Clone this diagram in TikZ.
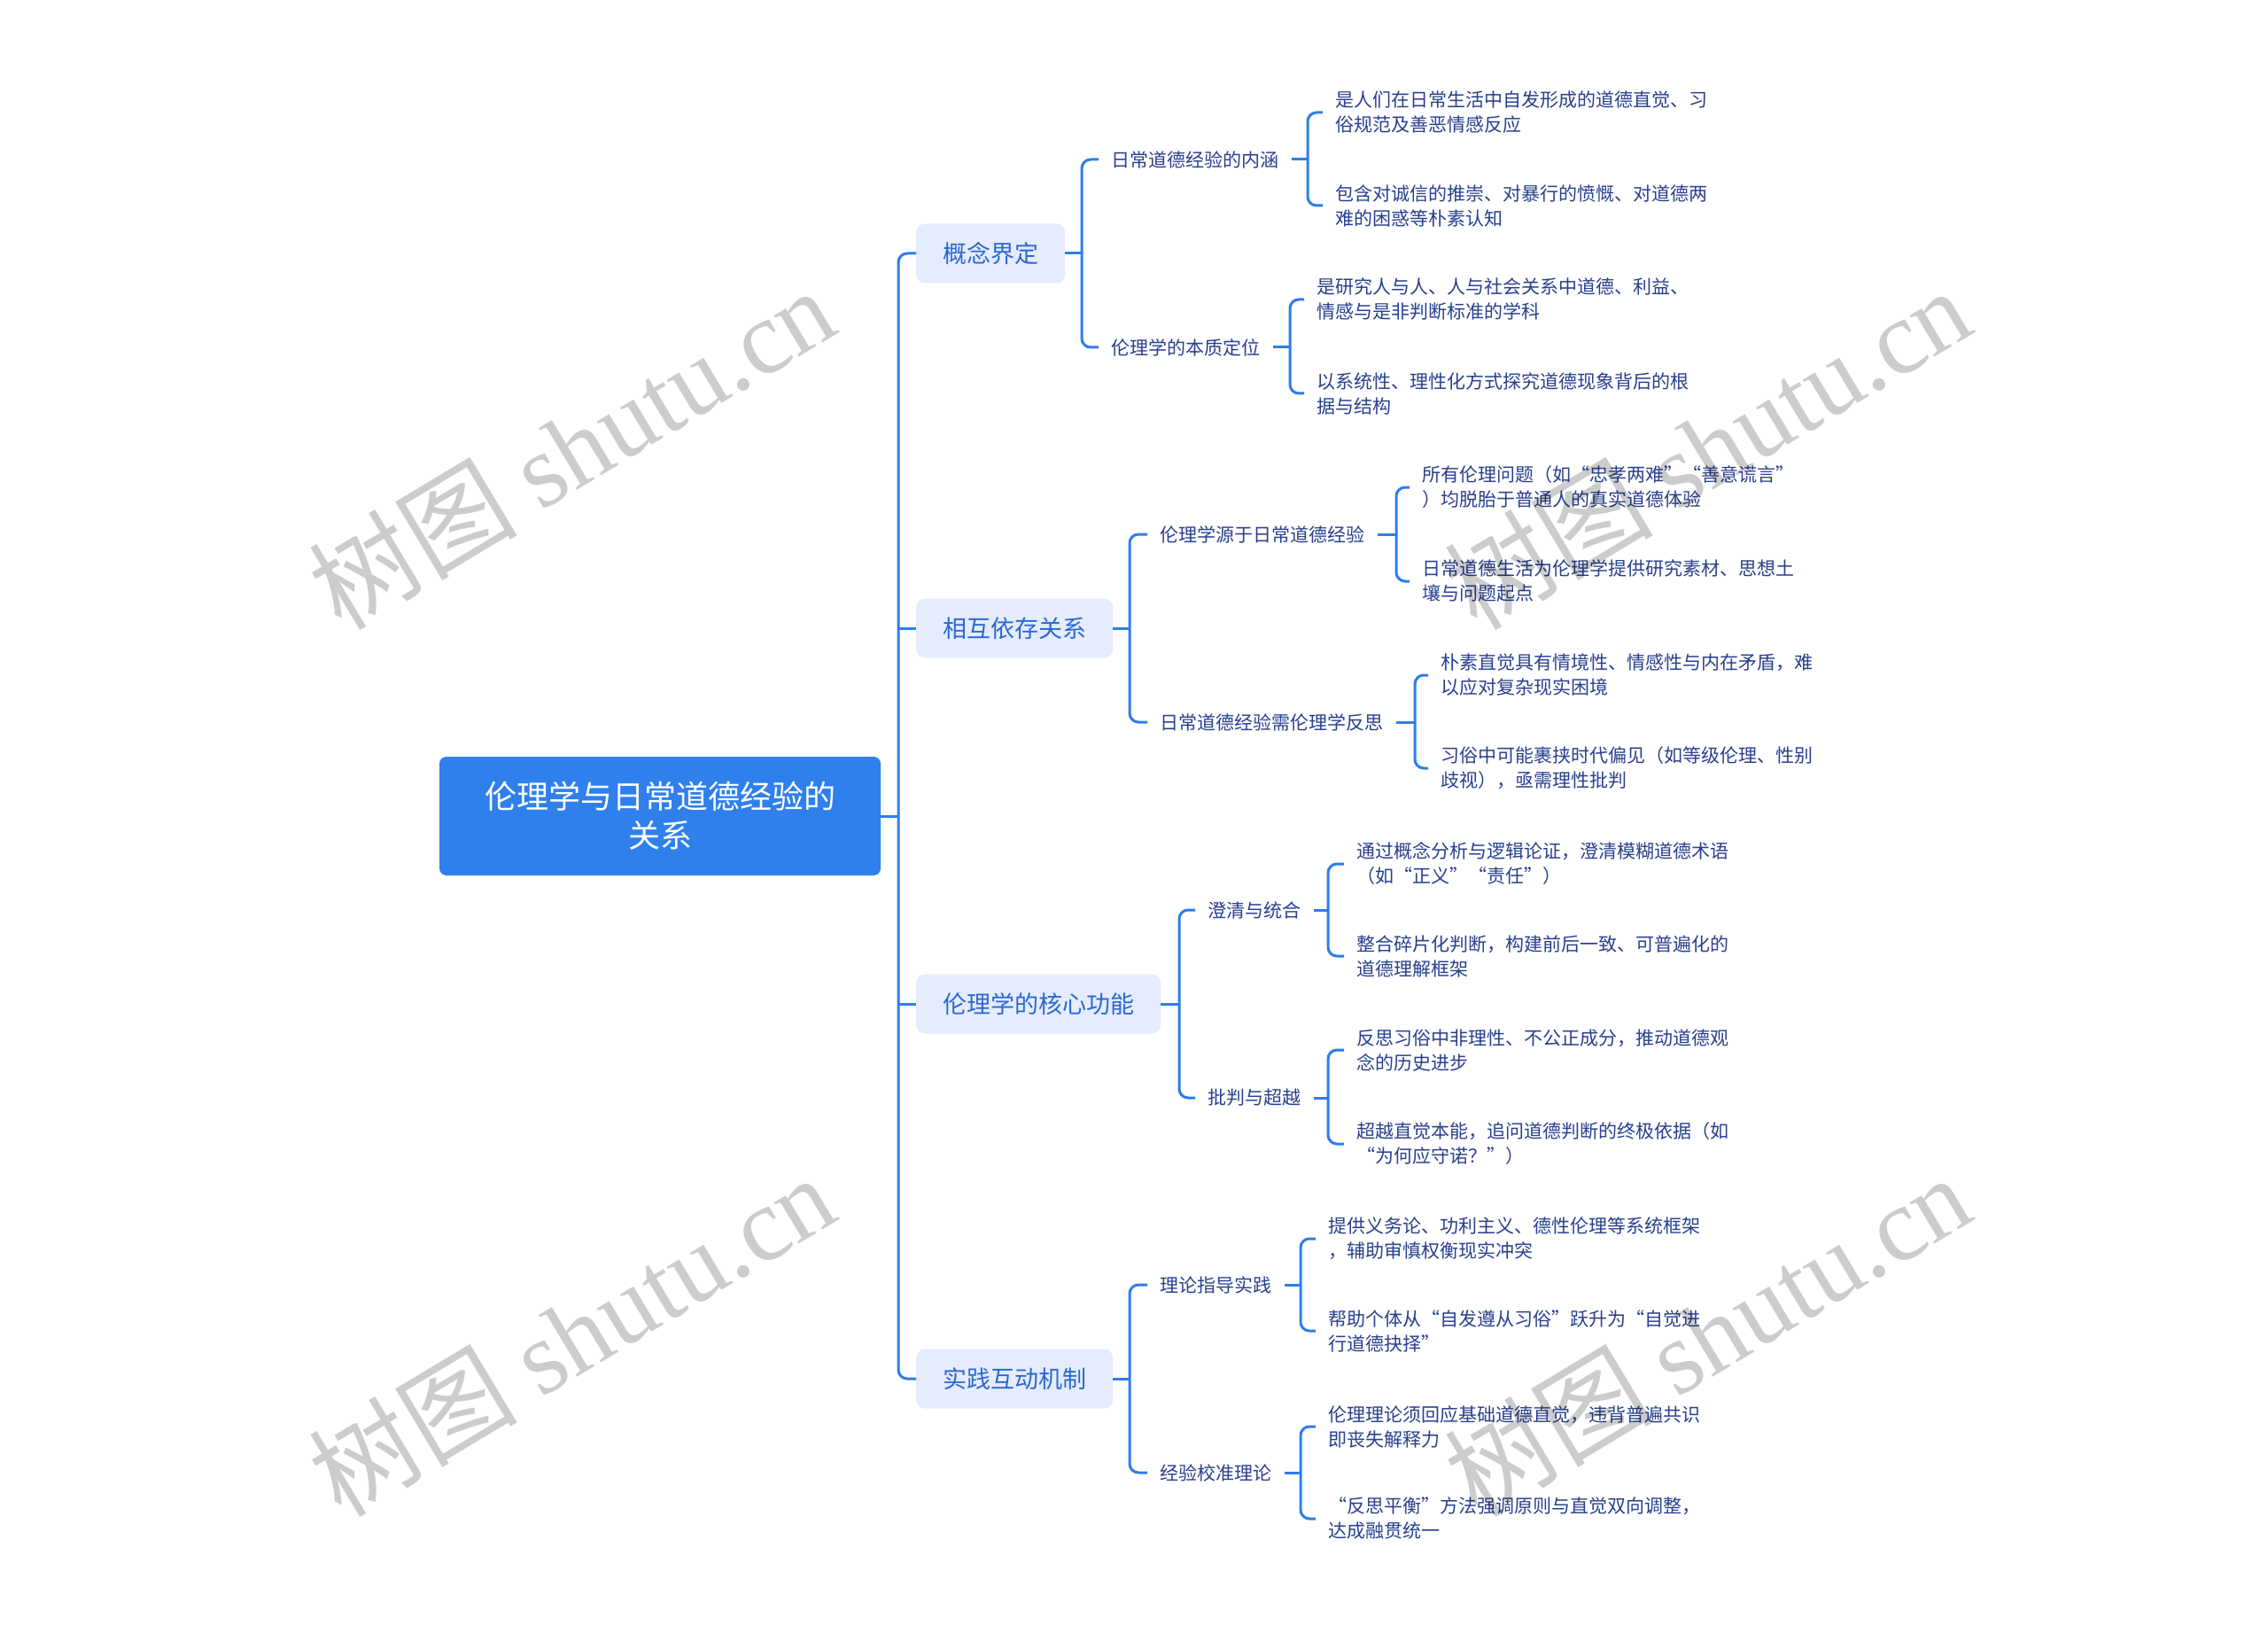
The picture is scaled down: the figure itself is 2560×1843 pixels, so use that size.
\documentclass[tikz,border=0pt]{standalone}
\usepackage{fontspec}
\setmainfont{Noto Sans CJK SC}
\newfontfamily\wmlatin{Liberation Serif}
\newfontfamily\wmcjk{Noto Sans CJK SC}
\definecolor{lineblue}{HTML}{2F7DE8}
\definecolor{rootblue}{HTML}{2F80ED}
\definecolor{lonefill}{HTML}{E4ECFD}
\definecolor{lonetext}{HTML}{2C67D2}
\definecolor{navy}{HTML}{283F8E}
\tikzset{
  conn/.style={draw=lineblue, line width=3pt, rounded corners=10pt},
  rootbox/.style={fill=rootblue, rounded corners=8pt, text=white, minimum width=498pt, minimum height=134pt, align=center, font=\fontsize{36}{44}\selectfont, inner sep=0pt},
  lonebox/.style={fill=lonefill, rounded corners=10pt, text=lonetext, minimum height=67pt, inner xsep=30pt, anchor=west, font=\fontsize{27}{32}\selectfont},
  ltwo/.style={text=navy, anchor=west, inner sep=0pt, font=\fontsize{21}{28}\selectfont},
  leaf/.style={text=navy, anchor=west, inner sep=0pt, align=left, font=\fontsize{21}{28}\selectfont},
  wmark/.style={rotate=31, text=black, text opacity=0.2, inner sep=0pt, font=\fontsize{118}{118}\selectfont}
}
\newcommand\mybrack[5]{%
  \draw[conn] ([xshift=#5]#1.east) -- (#1.east -| #2);
  \draw[conn] ([xshift=-14pt]#3.west) -- (#3.west -| #2) -- (#4.west -| #2) -- ([xshift=-14pt]#4.west);
}
\begin{document}
\begin{tikzpicture}[x=1pt,y=-1pt]
\useasboundingbox (0,0) rectangle (2560,1843);
\fill[white] (0,0) rectangle (2560,1843);

% root
\node[rootbox] (root) at (745,921) {伦理学与日常道德经验的\\关系};
\coordinate (trunk) at (1014,921);

% level 1
\node[lonebox] (la) at (1034,286) {概念界定};
\node[lonebox] (lb) at (1034,709) {相互依存关系};
\node[lonebox] (lc) at (1034,1133) {伦理学的核心功能};
\node[lonebox] (ld) at (1034,1556) {实践互动机制};

\draw[conn] (root.east) -- (root.east -| trunk);
\draw[conn] (la.west) -- (la.west -| trunk) -- (ld.west -| trunk) -- (ld.west);
\draw[conn] (lb.west -| trunk) -- (lb.west);
\draw[conn] (lc.west -| trunk) -- (lc.west);

% level 2
\node[ltwo] (aa) at (1254,180) {日常道德经验的内涵};
\node[ltwo] (ab) at (1254,392) {伦理学的本质定位};
\node[ltwo] (ba) at (1309,603) {伦理学源于日常道德经验};
\node[ltwo] (bb) at (1309,815) {日常道德经验需伦理学反思};
\node[ltwo] (ca) at (1363,1027) {澄清与统合};
\node[ltwo] (cb) at (1363,1239) {批判与超越};
\node[ltwo] (da) at (1309,1450) {理论指导实践};
\node[ltwo] (db) at (1309,1662) {经验校准理论};

\coordinate (bxa) at (1221,286);
\coordinate (bxb) at (1275,709);
\coordinate (bxc) at (1331,1133);
\coordinate (bxd) at (1275,1556);
\mybrack{la}{bxa}{aa}{ab}{0pt}
\mybrack{lb}{bxb}{ba}{bb}{0pt}
\mybrack{lc}{bxc}{ca}{cb}{0pt}
\mybrack{ld}{bxd}{da}{db}{0pt}

% level 3
\node[leaf] (aa1) at (1507,127) {是人们在日常生活中自发形成的道德直觉、习\\俗规范及善恶情感反应};
\node[leaf] (aa2) at (1507,232) {包含对诚信的推崇、对暴行的愤慨、对道德两\\难的困惑等朴素认知};
\node[leaf] (ab1) at (1486,338) {是研究人与人、人与社会关系中道德、利益、\\情感与是非判断标准的学科};
\node[leaf] (ab2) at (1486,444) {以系统性、理性化方式探究道德现象背后的根\\据与结构};
\node[leaf] (ba1) at (1605,550) {所有伦理问题（如“忠孝两难”“善意谎言”\\）均脱胎于普通人的真实道德体验};
\node[leaf] (ba2) at (1605,656) {日常道德生活为伦理学提供研究素材、思想土\\壤与问题起点};
\node[leaf] (bb1) at (1626,762) {朴素直觉具有情境性、情感性与内在矛盾，难\\以应对复杂现实困境};
\node[leaf] (bb2) at (1626,867) {习俗中可能裹挟时代偏见（如等级伦理、性别\\歧视），亟需理性批判};
\node[leaf] (ca1) at (1531,975) {通过概念分析与逻辑论证，澄清模糊道德术语\\（如“正义”“责任”）};
\node[leaf] (ca2) at (1531,1079) {整合碎片化判断，构建前后一致、可普遍化的\\道德理解框架};
\node[leaf] (cb1) at (1531,1185) {反思习俗中非理性、不公正成分，推动道德观\\念的历史进步};
\node[leaf] (cb2) at (1531,1291) {超越直觉本能，追问道德判断的终极依据（如\\“为何应守诺？”）};
\node[leaf] (da1) at (1499,1398) {提供义务论、功利主义、德性伦理等系统框架\\，辅助审慎权衡现实冲突};
\node[leaf] (da2) at (1499,1502) {帮助个体从“自发遵从习俗”跃升为“自觉进\\行道德抉择”};
\node[leaf] (db1) at (1499,1610) {伦理理论须回应基础道德直觉，违背普遍共识\\即丧失解释力};
\node[leaf] (db2) at (1499,1714) {“反思平衡”方法强调原则与直觉双向调整，\\达成融贯统一};

\coordinate (cxaa) at (1476,180);
\coordinate (cxab) at (1456,392);
\coordinate (cxba) at (1576,603);
\coordinate (cxbb) at (1597,815);
\coordinate (cxca) at (1499,1027);
\coordinate (cxcb) at (1499,1239);
\coordinate (cxda) at (1468,1450);
\coordinate (cxdb) at (1468,1662);
\mybrack{aa}{cxaa}{aa1}{aa2}{15pt}
\mybrack{ab}{cxab}{ab1}{ab2}{15pt}
\mybrack{ba}{cxba}{ba1}{ba2}{15pt}
\mybrack{bb}{cxbb}{bb1}{bb2}{15pt}
\mybrack{ca}{cxca}{ca1}{ca2}{15pt}
\mybrack{cb}{cxcb}{cb1}{cb2}{15pt}
\mybrack{da}{cxda}{da1}{da2}{15pt}
\mybrack{db}{cxdb}{db1}{db2}{15pt}

% watermarks
\node[wmark] (w1) at (645,505) {\wmcjk 树图 \wmlatin shutu.cn};
\node[wmark] (w2) at (1927,505) {\wmcjk 树图 \wmlatin shutu.cn};
\node[wmark] (w3) at (645,1506) {\wmcjk 树图 \wmlatin shutu.cn};
\node[wmark] (w4) at (1927,1506) {\wmcjk 树图 \wmlatin shutu.cn};
\end{tikzpicture}
\end{document}
